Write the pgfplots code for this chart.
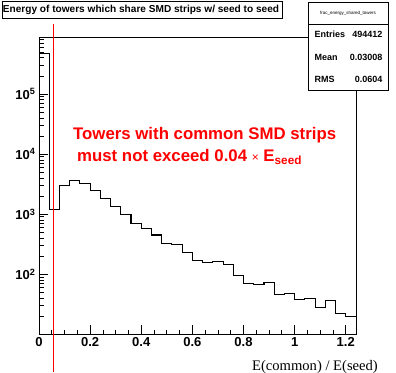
\documentclass[border=0pt]{standalone}
\usepackage{pgfplots}
\pgfplotsset{compat=1.18}
\usepackage{fontspec}
\setmainfont{Liberation Sans}
\newfontfamily\seriffont{Liberation Serif}

\pgfplotstableread{
x y
0.00 477000
0.04 1200
0.08 3010
0.12 3600
0.16 3240
0.20 2480
0.24 1820
0.28 1360
0.32 1000
0.36 707
0.40 584
0.44 450
0.48 322
0.52 316
0.56 229
0.60 169
0.64 154
0.68 165
0.72 143
0.76 96
0.80 71
0.84 68
0.88 74
0.92 46
0.96 48
1.00 38
1.04 39
1.08 28
1.12 37
1.16 22
1.20 20
1.24 20
}\histdata

\begin{document}
\begin{tikzpicture}
\begin{axis}[
  at={(0pt,0pt)}, anchor=south west,
  scale only axis, width=317pt, height=296.3pt,
  ymode=log, xmin=0, xmax=1.24, ymin=10.1, ymax=8.67e5,
  axis line style={line width=0.9pt},
  xtick={0,0.2,0.4,0.6,0.8,1,1.2},
  xticklabels={0,0.2,0.4,0.6,0.8,1,1.2},
  minor xtick={0.05,0.1,0.15,0.25,0.3,0.35,0.45,0.5,0.55,0.65,0.7,0.75,0.85,0.9,0.95,1.05,1.1,1.15},
  ytick={100,1000,10000,100000},
  yticklabels={10\textsuperscript{2},10\textsuperscript{3},10\textsuperscript{4},10\textsuperscript{5}},
  minor ytick={20,30,40,50,60,70,80,90,200,300,400,500,600,700,800,900,2000,3000,4000,5000,6000,7000,8000,9000,20000,30000,40000,50000,60000,70000,80000,90000,200000,300000,400000,500000,600000,700000,800000},
  tick align=inside, xtick pos=bottom, ytick pos=left,
  major tick length=9pt, minor tick length=4.5pt,
  tick style={black, line width=0.8pt},
  ticklabel style={font=\fontsize{13}{13}\selectfont\bfseries},
  clip=false,
]
\addplot[const plot mark left, black, line width=1.1pt] table[x=x,y=y] {\histdata};
\draw[red, line width=0.9pt] ([yshift=14pt]axis cs:0.0557,8.67e5) -- ([yshift=-38pt]axis cs:0.0557,10.1);
\end{axis}
% title box
\draw[line width=0.8pt, fill=white] (-37pt,316pt) rectangle (243pt,333pt);
\node[font=\fontsize{10.1}{10}\selectfont\bfseries] at (102pt,324.5pt) {Energy of towers which share SMD strips w/ seed to seed};
% stats box
\draw[line width=0.8pt, fill=white] (269pt,243.3pt) rectangle (349pt,332pt);
\draw[line width=0.8pt] (269pt,310pt) -- (349pt,310pt);
\node[font=\fontsize{4.5}{5}\selectfont] at (309pt,321pt) {frac\_energy\_shared\_towers};
\node[anchor=west, font=\fontsize{9}{9}\selectfont\bfseries] at (272pt,299.7pt) {Entries};
\node[anchor=east, font=\fontsize{9}{9}\selectfont\bfseries] at (347pt,299.7pt) {494412};
\node[anchor=west, font=\fontsize{9}{9}\selectfont\bfseries] at (272pt,276.7pt) {Mean};
\node[anchor=east, font=\fontsize{9}{9}\selectfont\bfseries] at (347pt,276.7pt) {0.03008};
\node[anchor=west, font=\fontsize{9}{9}\selectfont\bfseries] at (272pt,255pt) {RMS};
\node[anchor=east, font=\fontsize{9}{9}\selectfont\bfseries] at (347pt,255pt) {0.0604};
% annotation
\node[anchor=base west, inner sep=0pt, red, font=\fontsize{16.8}{16.8}\selectfont\bfseries] at (34pt,194pt) {Towers with common SMD strips};
\node[anchor=base west, inner sep=0pt, red, font=\fontsize{16.8}{16.8}\selectfont\bfseries] at (38pt,172.3pt) {must not exceed 0.04 {\mdseries\fontsize{12}{12}\selectfont×} E\textsubscript{seed}};
% x label
\node[anchor=base east, inner sep=0pt, font=\seriffont\fontsize{14.6}{14.6}\selectfont] at (339pt,-36pt) {E(common) / E(seed)};
\pgfresetboundingbox
\path[use as bounding box] (-39pt,-38pt) rectangle (357pt,334pt);
\end{tikzpicture}
\end{document}
